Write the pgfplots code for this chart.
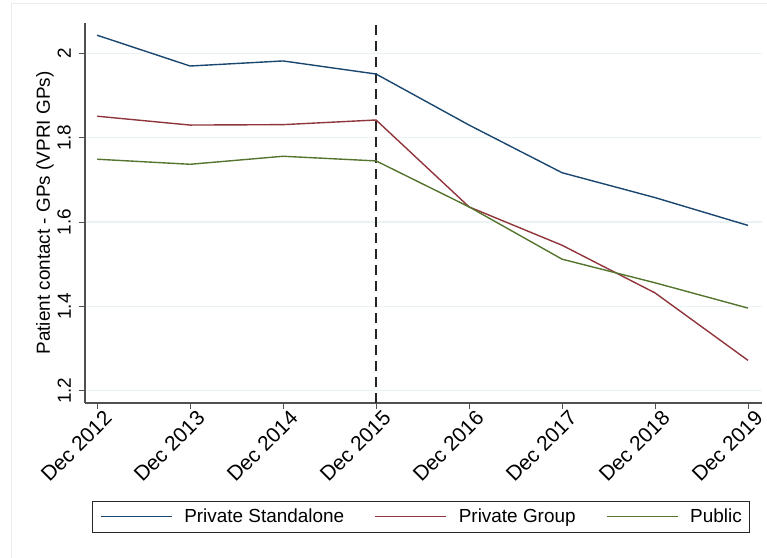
\documentclass[border=0pt]{standalone}
\usepackage{pgfplots}
\pgfplotsset{compat=1.18}
\usepackage{fontspec}
\setmainfont{Liberation Sans}
\definecolor{snavy}{RGB}{26,71,111}
\definecolor{smaroon}{RGB}{144,53,59}
\definecolor{sgreen}{RGB}{85,117,47}
\definecolor{gridc}{RGB}{234,242,243}
\definecolor{axc}{RGB}{80,80,80}
\begin{document}
\begin{tikzpicture}
\useasboundingbox (-85bp,-155bp) rectangle (682bp,403bp);
\draw[black!8, line width=0.8bp] (-74bp,-155bp) -- (-74bp,399.7bp) -- (682bp,399.7bp);
\begin{axis}[
  scale only axis, width=677bp, height=380bp,
  at={(0bp,0bp)}, anchor=south west,
  xmin=-0.13, xmax=7.15, ymin=1.171, ymax=2.072,
  axis x line*=bottom, axis y line*=left,
  axis line style={axc, line width=1.1bp},
  every tick/.style={axc, line width=1.1bp},
  major tick length=6bp, tick align=outside,
  xtick={0,1,2,3,4,5,6,7},
  xticklabels={Dec 2012,Dec 2013,Dec 2014,Dec 2015,Dec 2016,Dec 2017,Dec 2018,Dec 2019},
  ytick={1.2,1.4,1.6,1.8,2},
  yticklabels={1.2,1.4,1.6,1.8,2},
  ymajorgrids, grid style={gridc, line width=1.3bp},
  yticklabel style={font=\fontsize{19}{21}\selectfont, xshift=-8bp, rotate=90, anchor=south, inner sep=0bp},
  xticklabel style={font=\fontsize{21}{23}\selectfont, rotate=45, anchor=north east, inner sep=1bp, xshift=5bp, yshift=-3bp},
  ylabel={Patient contact - GPs (VPRI GPs)},
  ylabel style={font=\fontsize{19}{21}\selectfont, at={(axis description cs:-0.0591,0.5)}, anchor=center, rotate=0},
  legend columns=3,
  legend image code/.code={\draw[#1] (0bp,0bp) -- (71bp,0bp);},
  legend style={at={(axis description cs:0.0099,-0.2571)}, anchor=north west,
    draw=black!85, line width=1bp, inner xsep=8bp, inner ysep=6bp,
    font=\fontsize{19}{21}\selectfont,
    nodes={inner xsep=0bp},
    /tikz/every odd column/.append style={column sep=11.7bp},
    /tikz/every even column/.append style={column sep=30.5bp}},
]
\addplot[black!85, line width=1.8bp, dash pattern=on 10bp off 6bp, forget plot] coordinates {(3,1.171) (3,2.072)};
\addplot[snavy, line width=1.4bp] coordinates {
(0,2.043) (1,1.970) (2,1.982) (3,1.951) (4,1.830) (5,1.717) (6,1.658) (7,1.592)};
\addlegendentry{Private Standalone}
\addplot[smaroon, line width=1.4bp] coordinates {
(0,1.851) (1,1.830) (2,1.831) (3,1.842) (4,1.636) (5,1.545) (6,1.432) (7,1.272)};
\addlegendentry{Private Group}
\addplot[sgreen, line width=1.4bp] coordinates {
(0,1.749) (1,1.737) (2,1.756) (3,1.745) (4,1.636) (5,1.512) (6,1.456) (7,1.396)};
\addlegendentry{Public}
\end{axis}
\end{tikzpicture}
\end{document}
